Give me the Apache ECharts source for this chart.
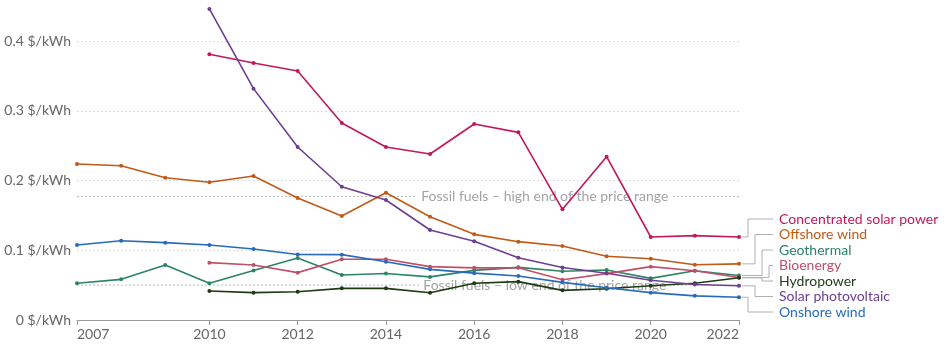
<!DOCTYPE html>
<html>
<head>
<meta charset="utf-8">
<script src="https://cdn.jsdelivr.net/npm/echarts@6/dist/echarts.min.js"></script>
<style>html,body{margin:0;padding:0;background:#fff;}#c{width:946px;height:345px;}</style>
</head>
<body>
<div id="c"></div>
<script>
// ---- data ----
const years = [2007,2008,2009,2010,2011,2012,2013,2014,2015,2016,2017,2018,2019,2020,2021,2022];
const xTickLabels = [2007,2010,2012,2014,2016,2018,2020,2022];
const yTicks = [0,0.1,0.2,0.3,0.4];
const seriesNames = ['Concentrated solar power','Offshore wind','Geothermal','Bioenergy','Hydropower','Solar photovoltaic','Onshore wind'];
const csp        = [null,null,null,0.381,0.3685,0.357,0.2824,0.248,0.238,0.281,0.269,0.1587,0.2342,0.119,0.1209,0.119];
const offshore   = [0.2237,0.2212,0.2040,0.1974,0.2065,0.1750,0.1490,0.1825,0.1480,0.1228,0.1123,0.1060,0.0915,0.0879,0.0792,0.0805];
const geothermal = [0.0526,0.0583,0.0789,0.0526,0.0710,0.0890,0.0645,0.0667,0.0618,0.0712,0.0755,0.0700,0.0717,0.0597,0.0707,0.0638];
const bioenergy  = [null,null,null,0.0822,0.0789,0.0679,0.0870,0.0870,0.0765,0.0748,0.0750,0.0578,0.0665,0.0765,0.0707,0.0610];
const hydropower = [null,null,null,0.0416,0.0392,0.0406,0.0454,0.0454,0.0391,0.0526,0.0550,0.0425,0.0449,0.0492,0.0526,0.0605];
const solarPV    = [null,null,null,0.446,0.3317,0.248,0.191,0.172,0.129,0.113,0.0893,0.0753,0.067,0.057,0.051,0.0490];
const onshore    = [0.1075,0.1137,0.1109,0.1075,0.1018,0.0940,0.0937,0.0836,0.0726,0.0672,0.0631,0.0540,0.0463,0.0392,0.0346,0.0327];
const fossilHigh = 0.177;
const fossilLow  = 0.050;
const fossilHighLabel = 'Fossil fuels – high end of the price range';
const fossilLowLabel  = 'Fossil fuels – low end of the price range';
const fossilLabelCenter = 2017.6;

// ---- styles ----
const colors = ['#C2185B','#C05A17','#2C8465','#C0506A','#1C3B13','#6D3E91','#286BBB'];
const valueArrays = [csp, offshore, geothermal, bioenergy, hydropower, solarPV, onshore];
const FONT = 'Lato, "Noto Sans", sans-serif';

const pairs = arr => years.map((y,i) => [y, arr[i]]).filter(p => p[1] != null);

const dataSeries = seriesNames.map((name, i) => ({
  name, type: 'line', data: pairs(valueArrays[i]),
  symbol: 'circle', symbolSize: 4, showSymbol: true,
  lineStyle: {width: 1.6, color: colors[i]},
  itemStyle: {color: colors[i]},
  z: 5, clip: false, animation: false
}));

function fossilSeries(val, label) {
  return {
    type: 'line', data: [[years[0], val], [years[years.length-1], val]],
    showSymbol: false, symbol: 'none', silent: true, z: 1, animation: false,
    lineStyle: {width: 1, color: '#bdbdbd', type: [2, 2]},
    markLine: {
      silent: true, symbol: 'none', animation: false,
      lineStyle: {color: 'rgba(255,255,255,0)', width: 1, type: 'solid'},
      label: {show: true, position: 'insideMiddle', formatter: label, color: '#a3a3a3',
        fontFamily: FONT, fontSize: 14, backgroundColor: '#fff', padding: [2, 4], distance: 0},
      data: [[{coord: [fossilLabelCenter - 1, val]}, {coord: [fossilLabelCenter + 1, val]}]]
    }
  };
}

const lastVals = valueArrays.map(a => a[a.length-1]);
const labelSeries = {
  type: 'custom', silent: true, clip: false, animation: false, z: 6,
  data: lastVals.map((v, i) => [years[years.length-1], v, i]),
  encode: {x: 0, y: 1},
  renderItem: function (params, api) {
    const idx = api.value(2);
    const gap = 15.5;
    const ends = lastVals.map(v => api.coord([years[years.length-1], v]));
    const bottom = api.coord([years[0], 0])[1] - 8;
    const order = ends.map((p, i) => i).sort((a, b) => ends[a][1] - ends[b][1]);
    const ly = {};
    let prev = -Infinity;
    order.forEach(i => { const y = Math.max(ends[i][1], prev + gap); ly[i] = y; prev = y; });
    let next = Infinity;
    for (let k = order.length - 1; k >= 0; k--) {
      const i = order[k];
      ly[i] = Math.min(ly[i], bottom, next - gap); next = ly[i];
    }
    const up = order.filter(i => ly[i] < ends[i][1]);
    const down = order.filter(i => ly[i] >= ends[i][1]).reverse();
    const endX = ends[idx][0];
    let rank = up.indexOf(idx); if (rank < 0) rank = down.indexOf(idx);
    const elbowX = endX + 9 + rank * 7;
    const labelX = endX + 40;
    const ey = ends[idx][1], y = ly[idx];
    return {
      type: 'group',
      children: [
        {type: 'polyline', shape: {points: [[endX + 3, ey], [elbowX, ey], [elbowX, y], [labelX - 6, y]]},
         style: {stroke: '#b0b0b0', lineWidth: 1, fill: null}},
        {type: 'text', x: labelX, y: y,
         style: {text: seriesNames[idx], fill: colors[idx], font: '14px ' + FONT, verticalAlign: 'middle', align: 'left'}}
      ]
    };
  }
};

const chart = echarts.init(document.getElementById('c'), null, {renderer: 'canvas'});
chart.setOption({
  animation: false,
  backgroundColor: '#fff',
  grid: {left: 77, right: 207, top: 41, bottom: 25, containLabel: false},
  xAxis: {
    type: 'value', min: years[0], max: years[years.length-1],
    axisLine: {show: true, lineStyle: {color: '#9a9a9a', width: 1}},
    axisTick: {show: true, length: 5, lineStyle: {color: '#9a9a9a'}, customValues: xTickLabels},
    axisLabel: {customValues: xTickLabels, color: '#666', fontFamily: FONT, fontSize: 14, margin: 7,
      alignMinLabel: 'left', alignMaxLabel: 'right', formatter: v => String(v)},
    splitLine: {show: false}
  },
  yAxis: {
    type: 'value', min: yTicks[0], max: yTicks[yTicks.length-1], interval: 0.1,
    axisLine: {show: false}, axisTick: {show: false},
    axisLabel: {color: '#666', fontFamily: FONT, fontSize: 14, margin: 6,
      formatter: v => (Math.round(v * 10) / 10) + ' $/kWh'},
    splitLine: {show: true, lineStyle: {color: '#dedede', type: [2, 2], width: 1}}
  },
  series: [
    fossilSeries(fossilHigh, fossilHighLabel),
    fossilSeries(fossilLow, fossilLowLabel),
    ...dataSeries,
    labelSeries
  ]
});
</script>
</body>
</html>
